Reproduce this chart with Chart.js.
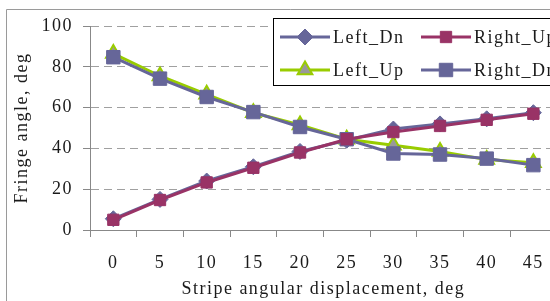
<!DOCTYPE html>
<html>
<head>
<meta charset="utf-8">
<script src="https://cdn.jsdelivr.net/npm/chart.js@4"></script>
<style>
  html, body { margin: 0; padding: 0; background: #fff; overflow: hidden; }
  #wrap { width: 575px; height: 301px; }
</style>
</head>
<body>
<div id="wrap"><canvas id="chart" width="575" height="301"></canvas></div>
<script>
// data
const categories = ['0', '5', '10', '15', '20', '25', '30', '35', '40', '45'];
const leftDn  = [5.5, 15, 24, 31, 38.5, 44, 49.5, 52, 54.5, 57.5];
const rightUp = [5, 14.7, 23.3, 30.5, 38, 44.5, 48, 51, 54, 57];
const leftUp  = [86.5, 75.5, 66.5, 57.5, 51.5, 44.5, 41.5, 38.5, 34.5, 33];
const rightDn = [84.7, 74.2, 65.2, 57.8, 50.5, 44.5, 37.5, 37, 35, 31.8];
const yTicks = [0, 20, 40, 60, 80, 100];

const textFont = { family: '"Liberation Serif", "DejaVu Serif", serif', size: 18 };
const fontStr = '18px "Liberation Serif", "DejaVu Serif", serif';

// outer frame + letter spacing (text in reference is widely spaced)
const frame = {
    id: 'frame',
    beforeDraw(chart) {
        const ctx = chart.ctx;
        ctx.letterSpacing = '1.5px';
        ctx.save();
        ctx.strokeStyle = '#9a9a9a';
        ctx.lineWidth = 1;
        ctx.beginPath();
        ctx.moveTo(6.5, 301);
        ctx.lineTo(6.5, 9.5);
        ctx.lineTo(575, 9.5);
        ctx.stroke();
        ctx.restore();
    }
};

// legend box sitting inside the plot, top right
const legendOrder = [[0, 280, 37], [1, 421, 37], [2, 280, 70], [3, 421, 70]];
const legendBox = {
    id: 'legendBox',
    afterDraw(chart) {
        const ctx = chart.ctx;
        ctx.save();
        ctx.fillStyle = '#fff';
        ctx.fillRect(273.5, 18.5, 320, 67);
        ctx.strokeStyle = '#000';
        ctx.lineWidth = 1;
        ctx.strokeRect(273.5, 18.5, 320, 67);
        legendOrder.forEach(([i, x, y]) => {
            const ds = chart.data.datasets[i];
            ctx.strokeStyle = ds.borderColor;
            ctx.lineWidth = 3;
            ctx.beginPath();
            ctx.moveTo(x, y);
            ctx.lineTo(x + 50, y);
            ctx.stroke();
            ctx.fillStyle = ds.pointBackgroundColor;
            ctx.strokeStyle = ds.pointBorderColor;
            ctx.lineWidth = ds.pointBorderWidth;
            Chart.helpers.drawPoint(ctx, {
                pointStyle: ds.pointStyle,
                radius: ds.pointRadius,
                rotation: 0,
                borderWidth: ds.pointBorderWidth
            }, x + 25, y);
            ctx.fillStyle = '#1a1a1a';
            ctx.font = fontStr;
            ctx.textAlign = 'left';
            ctx.textBaseline = 'middle';
            ctx.fillText(ds.label, x + 53, y + 1);
        });
        ctx.restore();
    }
};

new Chart(document.getElementById('chart'), {
    type: 'line',
    data: {
        labels: categories,
        datasets: [
            {
                label: 'Left_Dn', data: leftDn, order: 2,
                borderColor: '#666699', borderWidth: 3,
                pointStyle: 'rectRot', pointRadius: 8, pointBorderWidth: 1,
                pointBackgroundColor: '#666699', pointBorderColor: '#666699'
            },
            {
                label: 'Right_Up', data: rightUp, order: 0,
                borderColor: '#993366', borderWidth: 3,
                pointStyle: 'rect', pointRadius: 8, pointBorderWidth: 1,
                pointBackgroundColor: '#993366', pointBorderColor: '#993366'
            },
            {
                label: 'Left_Up', data: leftUp, order: 3,
                borderColor: '#99cc00', borderWidth: 3,
                pointStyle: 'triangle', pointRadius: 8.5, pointBorderWidth: 2,
                pointBackgroundColor: '#999999', pointBorderColor: '#99cc00'
            },
            {
                label: 'Right_Dn', data: rightDn, order: 1,
                borderColor: '#666699', borderWidth: 3,
                pointStyle: 'rect', pointRadius: 9.5, pointBorderWidth: 1,
                pointBackgroundColor: '#666699', pointBorderColor: '#666699'
            }
        ]
    },
    options: {
        responsive: false,
        animation: false,
        layout: { padding: { left: 0, top: 26, right: 18.3, bottom: 0 } },
        plugins: {
            legend: { display: false },
            tooltip: { enabled: false }
        },
        elements: { line: { tension: 0 } },
        scales: {
            x: {
                offset: true,
                grid: { offset: true, drawOnChartArea: false, drawTicks: true, tickLength: 7, color: '#888' },
                border: { color: '#888', width: 1 },
                ticks: { color: '#1a1a1a', font: textFont, padding: 15, maxRotation: 0 },
                title: { display: true, text: 'Stripe angular displacement, deg', color: '#1a1a1a', font: textFont, padding: { top: 0, bottom: 1 } },
                afterFit(scale) { scale.height = 71; }
            },
            y: {
                min: 0, max: 100,
                afterBuildTicks(scale) { scale.ticks = yTicks.map(v => ({ value: v })); },
                grid: { color: '#a0a0a0', tickColor: '#888', tickLength: 7, lineWidth: 1 },
                border: { color: '#888', width: 1, dash: [8, 5] },
                ticks: { color: '#1a1a1a', font: textFont, padding: 10 },
                title: { display: true, text: 'Fringe angle, deg', color: '#1a1a1a', font: textFont, padding: { top: 11, bottom: 0 } },
                afterFit(scale) { scale.width = 90; }
            }
        }
    },
    plugins: [frame, legendBox]
});
</script>
</body>
</html>
